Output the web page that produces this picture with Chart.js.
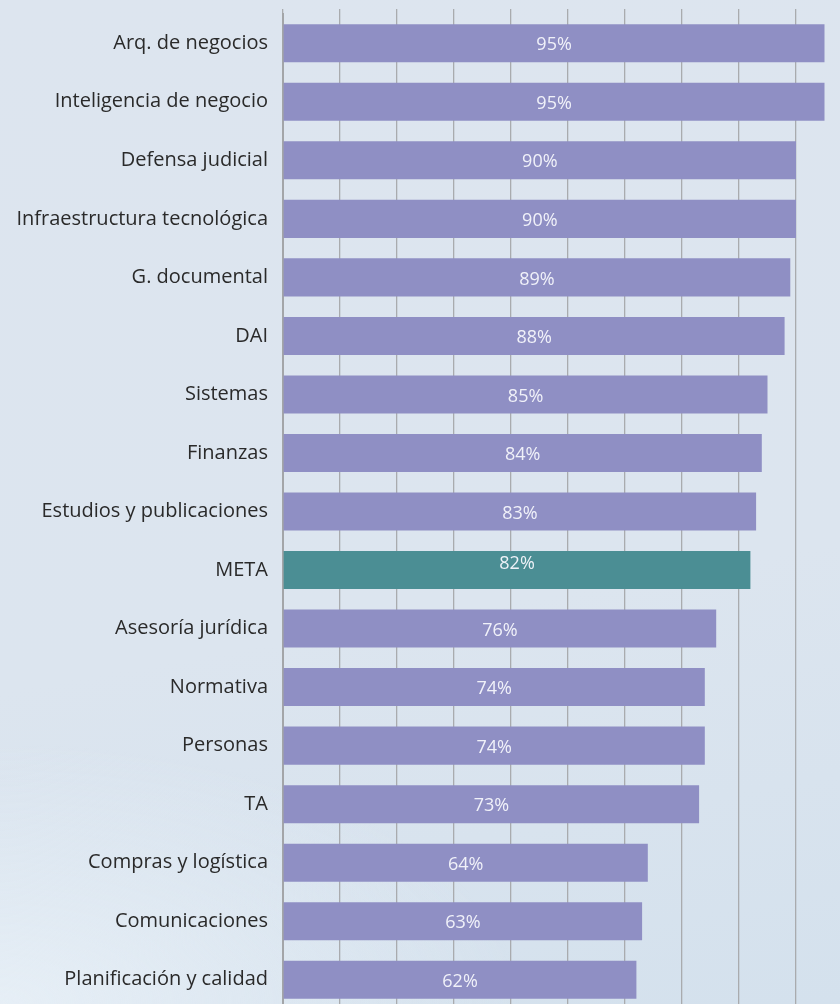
<!DOCTYPE html>
<html lang="es">
<head>
<meta charset="utf-8">
<title>Cumplimiento por área</title>
<script src="https://cdn.jsdelivr.net/npm/chart.js@4.4.1/dist/chart.umd.min.js"></script>
<style>
  html, body {
    margin: 0;
    padding: 0;
    width: 840px;
    height: 1004px;
    overflow: hidden;
  }
  body {
    background:
      radial-gradient(ellipse 520px 260px at 0px 1004px, rgba(232, 240, 247, 0.9), rgba(232, 240, 247, 0) 100%),
      linear-gradient(170deg, #dde5ef 0%, #dce5ef 60%, #d4e1ed 100%);
  }
  #chart {
    position: absolute;
    left: 0;
    top: 0;
  }
</style>
</head>
<body>
<canvas id="chart" width="860" height="1009"></canvas>
<script>
const areas = [
  'Arq. de negocios',
  'Inteligencia de negocio',
  'Defensa judicial',
  'Infraestructura tecnológica',
  'G. documental',
  'DAI',
  'Sistemas',
  'Finanzas',
  'Estudios y publicaciones',
  'META',
  'Asesoría jurídica',
  'Normativa',
  'Personas',
  'TA',
  'Compras y logística',
  'Comunicaciones',
  'Planificación y calidad'
];
const cumplimiento = [95, 95, 90, 90, 89, 88, 85, 84, 83, 82, 76, 74, 74, 73, 64, 63, 62];
const xTicks = [0, 10, 20, 30, 40, 50, 60, 70, 80, 90, 100];

const BAR_COLOR = '#8f8fc4';
const META_COLOR = '#4b8e94';
const FONT = '"Open Sans", "Noto Sans", sans-serif';

// percentage text centred on each bar
const valueLabels = {
    id: 'valueLabels',
    afterDatasetsDraw(chart) {
        const ctx = chart.ctx;
        const meta = chart.getDatasetMeta(0);
        ctx.save();
        ctx.font = '18px ' + FONT;
        ctx.fillStyle = 'rgba(246, 247, 252, 0.95)';
        ctx.textAlign = 'center';
        ctx.textBaseline = 'middle';
        meta.data.forEach((bar, i) => {
            const x = (bar.base + bar.x) / 2;
            const shift = areas[i] === 'META' ? -6 : 2;
            ctx.fillText(cumplimiento[i] + '%', x, bar.y + shift);
        });
        ctx.restore();
    }
};

const ctx = document.getElementById('chart').getContext('2d');
const chart = new Chart(ctx, {
    type: 'bar',
    data: {
        labels: areas,
        datasets: [{
            data: cumplimiento,
            backgroundColor: areas.map(a => a === 'META' ? META_COLOR : BAR_COLOR),
            borderWidth: 0,
            barPercentage: 0.65,
            categoryPercentage: 1
        }]
    },
    options: {
        indexAxis: 'y',
        responsive: false,
        animation: false,
        layout: {
            padding: { top: 9, right: 7, bottom: 0, left: 0 }
        },
        plugins: {
            legend: { display: false },
            tooltip: { enabled: false }
        },
        scales: {
            x: {
                position: 'top',
                min: 0,
                max: 100,
                afterBuildTicks: (scale) => {
                    scale.ticks = xTicks.map(v => ({ value: v }));
                },
                ticks: { display: false },
                grid: {
                    color: '#a9abae',
                    lineWidth: 1.3,
                    drawTicks: true,
                    tickLength: 5
                },
                border: { display: false }
            },
            y: {
                afterFit: (scale) => {
                    // fixed label column, no extra room above/below the first/last label
                    scale.width = 283;
                    scale.paddingTop = 0;
                    scale.paddingBottom = 0;
                },
                ticks: {
                    color: '#2a2a2a',
                    font: { family: FONT, size: 20 },
                    padding: 15
                },
                grid: { display: false, drawTicks: false },
                border: { display: true, color: '#a3a5a8', width: 2 }
            }
        }
    },
    plugins: [valueLabels]
});
</script>
</body>
</html>
